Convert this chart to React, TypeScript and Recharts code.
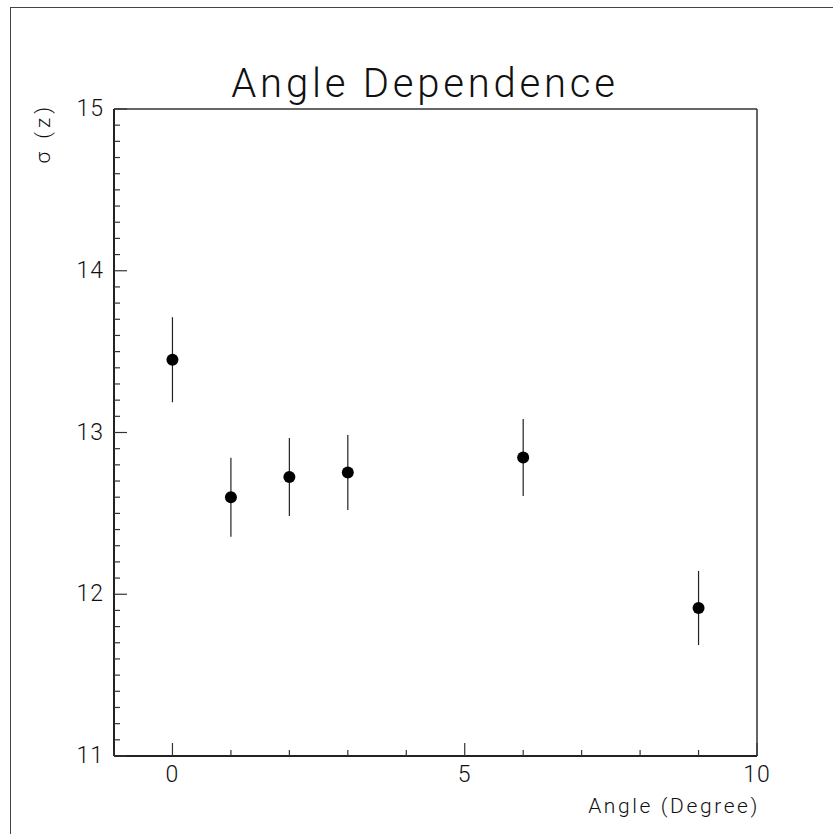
import { ComposedChart, Scatter, ErrorBar, XAxis, YAxis, ReferenceLine } from 'recharts';

// measurements: sigma(z) vs. tilt angle
const angles = [0, 1, 2, 3, 6, 9];
const sigmaZ = [13.45, 12.6, 12.725, 12.753, 12.845, 11.915];
const sigmaErr = [0.263, 0.244, 0.241, 0.232, 0.238, 0.229];

const xTicks = [-1, 0, 1, 2, 3, 4, 5, 6, 7, 8, 9, 10];
const xLabelled = [0, 5, 10];
const yLabelled = [11, 12, 13, 14, 15];
// minor ticks every 0.1 between the labelled ones
const yTicks = Array.from({ length: 41 }, (_, i) => Math.round((11 + i * 0.1) * 10) / 10);

const data = angles.map((a, i) => ({ angle: a, sigma: sigmaZ[i], err: sigmaErr[i] }));

const FONT = 'Roboto, "DejaVu Sans", sans-serif';
const INK = '#111';

function YTick(props: any) {
  const { x, y, payload } = props;
  const v = payload.value as number;
  const major = yLabelled.some((m) => Math.abs(m - v) < 1e-6);
  return (
    <g>
      <line x1={x} x2={x + (major ? 13 : 6)} y1={y} y2={y} stroke="#333" strokeWidth={1.2} />
      {major && (
        <text x={x - 10} y={y} dy={7} textAnchor="end" fontSize={23} fontFamily={FONT} fontWeight={300} fill={INK} letterSpacing={1}>
          {v}
        </text>
      )}
    </g>
  );
}

function XTick(props: any) {
  const { x, y, payload } = props;
  const v = payload.value as number;
  const major = xLabelled.includes(v);
  return (
    <g>
      <line x1={x} x2={x} y1={y} y2={y - (major ? 13 : 6)} stroke="#333" strokeWidth={1.2} />
      {major && (
        <text x={x} y={y + 26} textAnchor="middle" fontSize={23} fontFamily={FONT} fontWeight={300} fill={INK} letterSpacing={1}>
          {v}
        </text>
      )}
    </g>
  );
}

function Dot(props: any) {
  return <circle cx={props.cx} cy={props.cy} r={6} fill="#000" />;
}

export default function App() {
  return (
    <div style={{ position: 'absolute', left: 0, top: 0, width: 833, height: 834, background: '#fff', overflow: 'hidden' }}>
      <div
        style={{
          position: 'absolute',
          left: 10,
          top: 7,
          width: 840,
          height: 840,
          borderLeft: '1px solid #444',
          borderTop: '1px solid #444',
        }}
      />
      <div
        style={{
          position: 'absolute',
          left: 0,
          width: 850,
          top: 60,
          textAlign: 'center',
          fontFamily: FONT,
          fontWeight: 300,
          fontSize: 40,
          color: INK,
          letterSpacing: 3.8,
        }}
      >
        Angle Dependence
      </div>
      <ComposedChart
        width={833}
        height={834}
        data={data}
        margin={{ top: 109, right: 76, bottom: 48, left: 54 }}
        style={{ position: 'absolute', left: 0, top: 0 }}
      >
        <XAxis
          type="number"
          dataKey="angle"
          domain={[-1, 10]}
          ticks={xTicks}
          interval={0}
          tickSize={0}
          tickMargin={0}
          tick={<XTick />}
          axisLine={{ stroke: '#222', strokeWidth: 2 }}
          allowDataOverflow
          height={30}
          label={(p: any) => {
            const vb = p.viewBox;
            return (
              <text x={vb.x + vb.width + 3} y={813} textAnchor="end" fontSize={21} fontFamily={FONT} fontWeight={300} fill={INK} letterSpacing={2.6}>
                Angle (Degree)
              </text>
            );
          }}
        />
        <YAxis
          type="number"
          dataKey="sigma"
          domain={[11, 15]}
          ticks={yTicks}
          interval={0}
          tickSize={0}
          tickMargin={0}
          tick={<YTick />}
          axisLine={{ stroke: '#222', strokeWidth: 2 }}
          allowDataOverflow
          width={60}
          label={(p: any) => {
            const vb = p.viewBox;
            return (
              <text
                x={43}
                y={vb.y - 6}
                transform={`rotate(-90, 43, ${vb.y - 6})`}
                dy={7}
                textAnchor="end"
                fontSize={21}
                fontFamily={FONT}
                fontWeight={300}
                fill={INK}
                letterSpacing={4}
              >
                σ (z)
              </text>
            );
          }}
        />
        <ReferenceLine y={15} stroke="#333" strokeWidth={1.5} />
        <ReferenceLine x={10} stroke="#333" strokeWidth={1.5} />
        <Scatter dataKey="sigma" shape={<Dot />} isAnimationActive={false}>
          <ErrorBar dataKey="err" direction="y" width={0} stroke="#222" strokeWidth={1.2} />
        </Scatter>
      </ComposedChart>
    </div>
  );
}
